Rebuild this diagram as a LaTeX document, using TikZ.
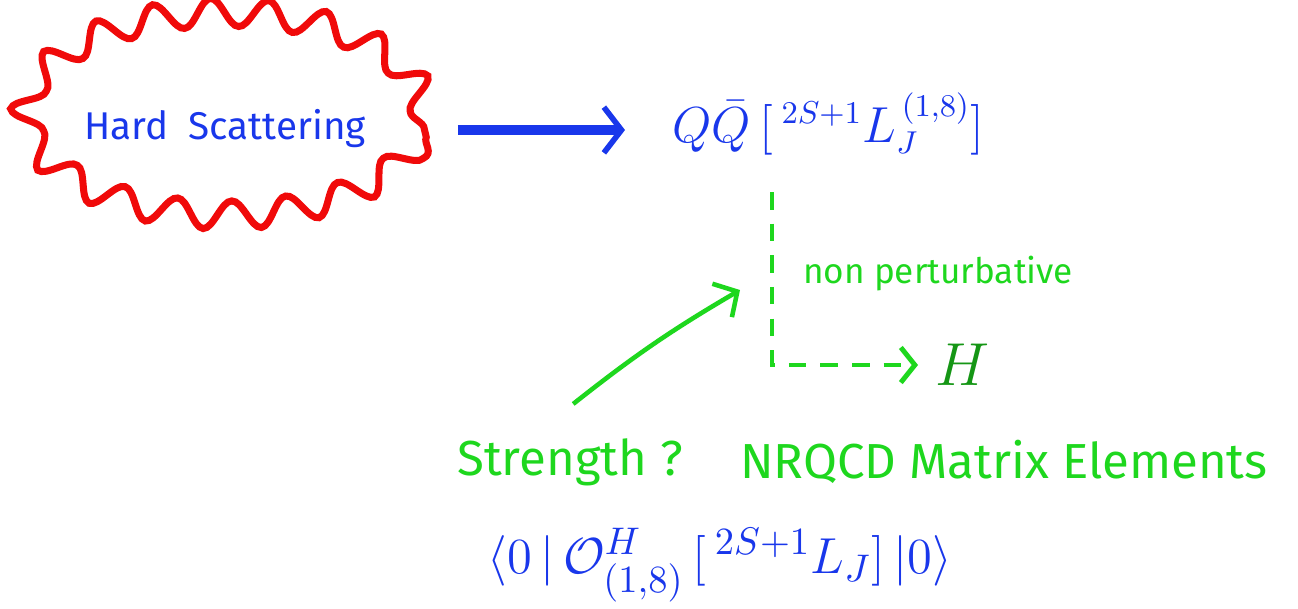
\documentclass[tikz,border=0pt]{standalone}
\usepackage{fontspec}
\setmainfont{Fira Sans}
\usepackage{amsmath, amssymb}
\usetikzlibrary{arrows.meta, positioning, calc, decorations.pathmorphing, shapes.geometric}
\definecolor{penblue}{RGB}{25, 55, 235}
\definecolor{penred}{RGB}{240, 10, 10}
\definecolor{pengreen}{RGB}{30, 215, 30}

\begin{document}
\begin{tikzpicture}[
  blob/.style={ellipse, draw=penred, line width=2pt, inner sep=0pt, decorate, decoration={snake, amplitude=4pt, segment length=16pt}, minimum width=3.98cm, minimum height=2.03cm, text=penblue, font=\fontsize{11}{13}\selectfont},
  bluetxt/.style={text=penblue, font=\fontsize{13.5}{15}\selectfont},
  greentxt/.style={text=pengreen, font=\fontsize{14}{16}\selectfont},
  bigarrow/.style={draw=penblue, line width=2.6pt, -{Straight Barb[length=5pt, width=13pt, line width=1.6pt]}},
  dashline/.style={draw=pengreen, line width=1.4pt, dashed, dash pattern=on 5pt off 4pt, -{Straight Barb[length=4pt, width=10pt, line width=1.4pt, sep]}},
  thinarrow/.style={draw=pengreen, line width=1.3pt, -{Straight Barb[length=5pt, width=11pt, line width=1.3pt]}}
]
  \useasboundingbox (0,0) rectangle (12.98,-6.08);

  \node[blob] (hard) at (2.25,-1.29) {Hard\ \ Scattering};
  \node[bluetxt, anchor=west] (qq) at (6.6,-1.24) {$Q\bar{Q}\,[\,{}^{2S+1}L_J^{\,(1,8)}]$};
  \draw[bigarrow, shorten >=0.35cm] (hard.east) ++(0.3,-0.01) coordinate (tail) -- (tail -| qq.west);

  \coordinate (split) at (7.72,-1.92);
  \node[greentxt, text=pengreen!70!black, font=\fontsize{16}{18}\selectfont] (had) at (9.62,-3.65) {$H$};
  \draw[dashline] (split) |- (had.west);
  \node[text=pengreen, font=\fontsize{10}{12}\selectfont] (nonpert) at (9.38,-2.74) {non perturbative};

  \node[greentxt, anchor=west] (strength) at (4.45,-4.62) {Strength ?};
  \node[greentxt, anchor=east] (nrqcd) at (12.8,-4.62) {NRQCD Matrix Elements};
  \coordinate (aim) at (7.4,-2.9);
  \draw[thinarrow] (strength.north) ++(0.03,0.22) coordinate (foot) to[bend left=4] (aim);

  \node[bluetxt, font=\fontsize{15}{17}\selectfont] (ldme) at (7.2,-5.65) {$\langle 0\,|\,\mathcal{O}^{H}_{(1,8)}\,[\,{}^{2S+1}L_J]\,|0\rangle$};
\end{tikzpicture}
\end{document}
